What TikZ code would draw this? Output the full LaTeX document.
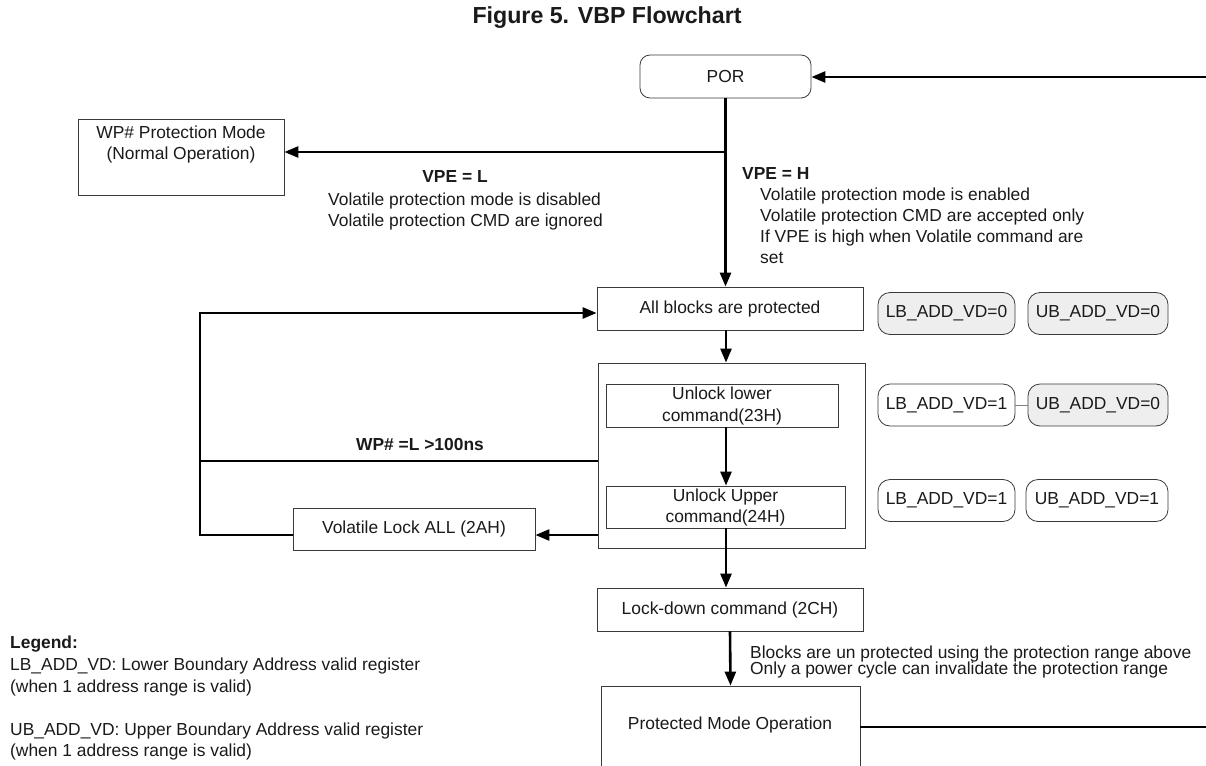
\documentclass[tikz,border=0pt]{standalone}
\usepackage{fontspec}
\setmainfont{Liberation Sans}
\usetikzlibrary{arrows.meta}
\definecolor{ink}{HTML}{1A1A1A}
\definecolor{edge}{HTML}{3A3A3A}
\definecolor{regfill}{HTML}{EEEEEE}
\newcommand{\txtfont}{\fontsize{17.4}{21}\selectfont}
\begin{document}
\begin{tikzpicture}[x=1pt,y=-1pt,
  every node/.style={text=ink, font=\txtfont},
  box/.style={draw=edge, line width=0.8pt, fill=white, inner sep=0pt, align=center},
  regbox/.style={box, rounded corners=12pt, minimum height=42pt},
  graybox/.style={regbox, fill=regfill},
  wire/.style={draw=black, line width=2.6pt},
  flow/.style={wire, -{Triangle[length=14pt,width=11pt]}},
  txtlabel/.style={anchor=base west, inner sep=0pt},
  boldlabel/.style={txtlabel, font=\txtfont\bfseries}]
\useasboundingbox (0,0) rectangle (1206,765);

% title
\node[font=\fontsize{23.2}{27}\selectfont\bfseries] (title) at (607,18) {Figure 5. VBP Flowchart};

% main boxes
\node[box, rounded corners=10pt, minimum width=171pt, minimum height=43pt] (por) at (725.5,76.5) {POR};
\node[box, minimum width=206pt, minimum height=76pt] (wp) at (181,157) {};
\node[align=center, inner sep=0pt] (wptext) at (181,145) {WP\# Protection Mode\\(Normal Operation)};
\node[box, minimum width=266pt, minimum height=43pt] (allb) at (730,308.5) {All blocks are protected};
\node[box, minimum width=267pt, minimum height=185pt] (cont) at (731.5,455.5) {};
\node[box, minimum width=232pt, minimum height=43pt] (ulow) at (722,405.5) {Unlock lower\\[1pt]command(23H)};
\node[box, minimum width=239pt, minimum height=42pt] (uup) at (725.5,507) {Unlock Upper\\command(24H)};
\node[box, minimum width=242pt, minimum height=42pt] (lock) at (414,529) {Volatile Lock ALL (2AH)};
\node[box, minimum width=266pt, minimum height=43pt] (ldown) at (730,609.5) {Lock-down command (2CH)};
\node[box, minimum width=259pt, minimum height=94pt] (prot) at (730.5,733) {};
\node[inner sep=0pt] (prottext) at (730,725) {Protected Mode Operation};

% register states
\node[graybox, minimum width=137pt] (ra) at (946.5,313.5) {LB\_ADD\_VD=0};
\node[graybox, minimum width=140pt] (rb) at (1098,313.5) {UB\_ADD\_VD=0};
\node[regbox, minimum width=137pt] (rc) at (946.5,405) {LB\_ADD\_VD=1};
\node[graybox, minimum width=140pt] (rd) at (1098,405) {UB\_ADD\_VD=0};
\node[regbox, minimum width=137pt] (re) at (946.5,500.5) {LB\_ADD\_VD=1};
\node[regbox, minimum width=142pt] (rf) at (1097,500.5) {UB\_ADD\_VD=1};
\draw[draw=gray, line width=0.6pt] (rc.east) -- (rd.west);

% axis and loop corners
\coordinate (axis) at (726,0);
\coordinate (loopTop) at (200,313);
\coordinate (loopMid) at (200,461);
\coordinate (loopBot) at (200,535);
\coordinate (rightTop) at (1212,77);
\coordinate (rightBot) at (1212,727);

% connectors
\draw[flow] (por.south) -- (por.south |- allb.north);
\draw[flow] (axis |- 0,152) -- (wp.east |- 0,152);
\draw[flow] (axis |- allb.south) -- (axis |- cont.north);
\draw[flow] (axis |- ulow.south) -- (axis |- uup.north);
\draw[flow] (axis |- uup.south) -- (axis |- ldown.north);
\draw[flow] (ldown.south) -- (prot.north);
\draw[flow] (cont.west |- loopMid) -- (loopMid) -- (loopTop) -- (allb.west |- loopTop);
\draw[flow] (cont.west |- loopBot) -- (lock.east |- loopBot);
\draw[wire] (lock.west |- loopBot) -- (loopBot) -- (loopMid);
\draw[flow] (prot.east |- rightBot) -- (rightBot) -- (rightTop) -- (por.east |- rightTop);

% conditions
\node[txtlabel, anchor=base, font=\txtfont\bfseries] (vpel) at (455,182) {VPE = L};
\node[txtlabel] (l1) at (328,205) {Volatile protection mode is disabled};
\node[txtlabel] (l2) at (328,226) {Volatile protection CMD are ignored};
\node[boldlabel] (vpeh) at (742,179.5) {VPE = H};
\node[txtlabel] (h1) at (760,200) {Volatile protection mode is enabled};
\node[txtlabel] (h2) at (760,221) {Volatile protection CMD are accepted only};
\node[txtlabel] (h3) at (760,242) {If VPE is high when Volatile command are};
\node[txtlabel] (h4) at (760,263) {set};
\node[txtlabel, anchor=base, font=\txtfont\bfseries] (wpl) at (420,450) {WP\# =L >100ns};
\node[txtlabel] (b1) at (750,658) {Blocks are un protected using the protection range above};
\node[txtlabel] (b2) at (750,674) {Only a power cycle can invalidate the protection range};

% legend
\node[boldlabel] (lg) at (10,648) {Legend:};
\node[txtlabel] (lg1) at (10,670) {LB\_ADD\_VD: Lower Boundary Address valid register};
\node[txtlabel] (lg2) at (10,692) {(when 1 address range is valid)};
\node[txtlabel] (lg3) at (10,735) {UB\_ADD\_VD: Upper Boundary Address valid register};
\node[txtlabel] (lg4) at (10,756) {(when 1 address range is valid)};
\end{tikzpicture}
\end{document}
